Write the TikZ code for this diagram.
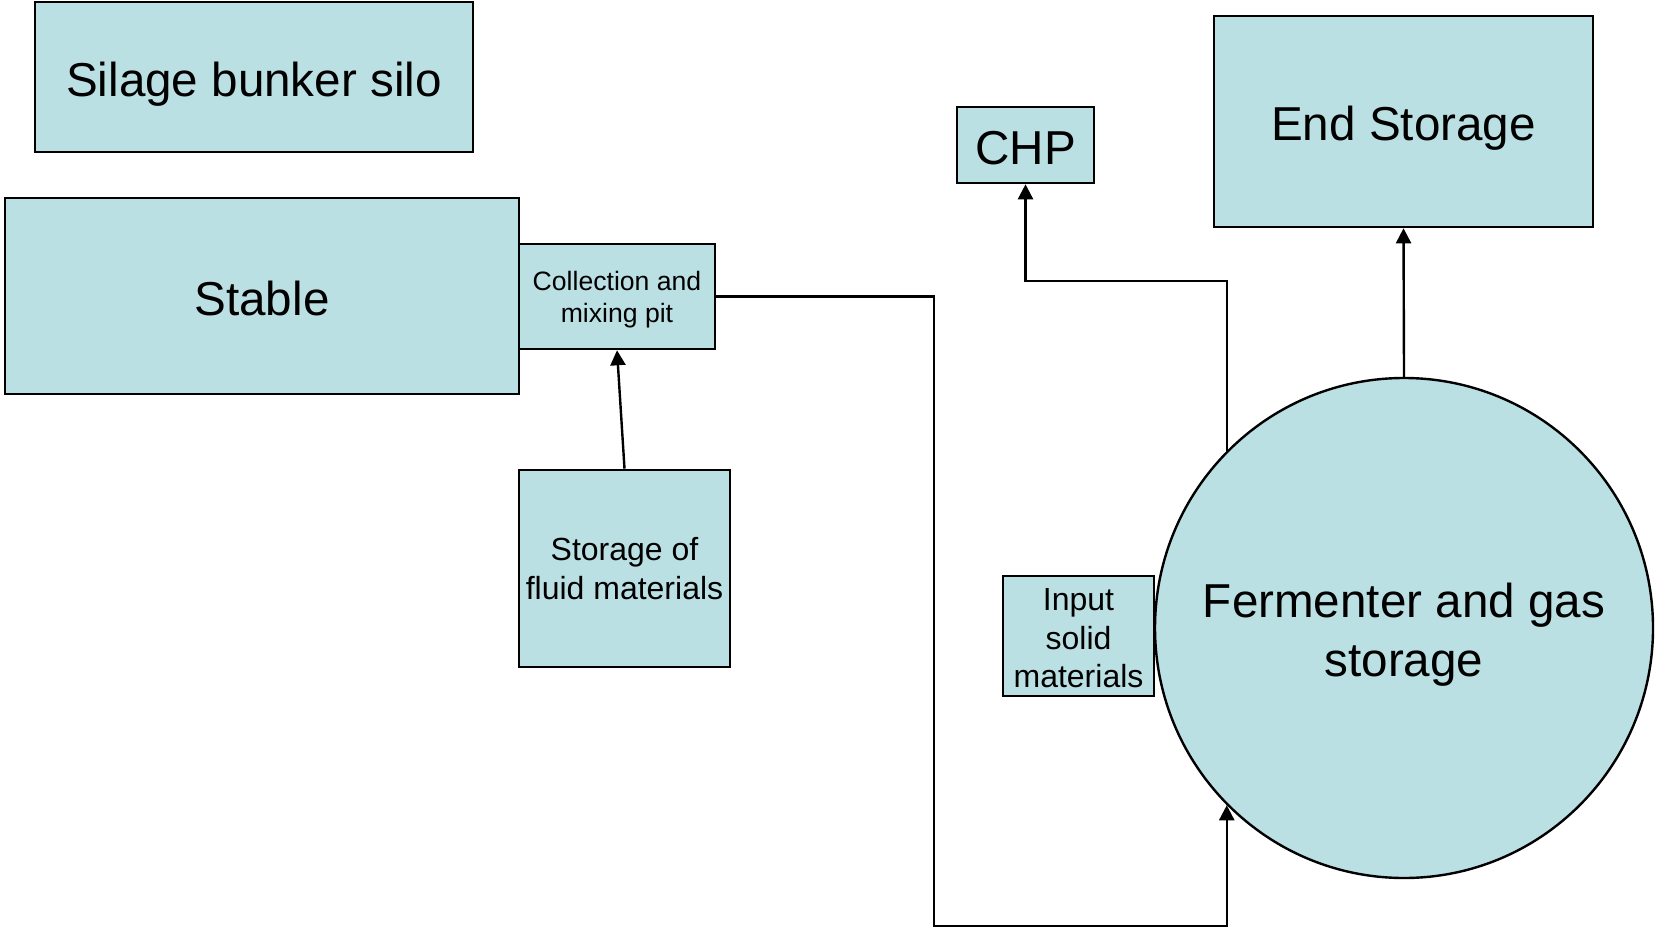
\documentclass[tikz,border=0pt]{standalone}
\usepackage{fontspec}
\setmainfont{Liberation Sans}
\usetikzlibrary{shapes.geometric,arrows.meta}
\definecolor{boxfill}{RGB}{187,224,227}
\begin{document}
\begin{tikzpicture}[x=0.5pt,y=-0.5pt,
  box/.style={draw=black,line width=1.3pt,fill=boxfill,rectangle,inner sep=0pt,align=center},
  big/.style={font=\fontsize{23.8}{29.5}\selectfont},
  oneline/.style={text height=24.5pt,text depth=5pt},
  mid/.style={font=\fontsize{16}{19.2}\selectfont},
  small/.style={font=\fontsize{13.3}{15.9}\selectfont},
  arr/.style={line width=1.2pt,-{Triangle[length=7.5pt,width=7.5pt]}}]
\useasboundingbox (0,0) rectangle (1657,930);
\node[box,big,oneline,minimum width=219pt,minimum height=75pt] (silo) at (254,77) {Silage bunker silo};
\node[box,big,oneline,minimum width=257pt,minimum height=98pt] (stable) at (262,296) {Stable};
\node[box,small,minimum width=98pt,minimum height=52.5pt] (coll) at (617,296.5) {\rule{0pt}{12.7pt}Collection and\\mixing pit};
\node[box,mid,minimum width=105.5pt,minimum height=98.5pt] (fluid) at (624.5,568.5) {Storage of\\fluid materials};
\node[box,big,oneline,minimum width=68.5pt,minimum height=38pt] (chp) at (1025.5,145) {CHP};
\node[box,big,oneline,minimum width=189.5pt,minimum height=105.5pt] (end) at (1403.5,121.5) {End Storage};
\node[box,mid,minimum width=75.5pt,minimum height=60pt] (input) at (1078.5,636) {\rule{0pt}{13.5pt}Input\\solid\\materials};
\node[ellipse,draw=black,line width=1.2pt,fill=boxfill,inner sep=0pt,minimum width=249pt,minimum height=250pt] (ferm) at (1404,628) {};
\node[big,align=center,inner sep=0pt] (fermtext) at ([yshift=-3.5pt]ferm.center) {Fermenter and gas\\storage};
\coordinate (b) at (934,926);
\coordinate (k) at (1227,281);
\draw[arr] (coll.east) -| (b) -| (ferm.-135);
\draw[arr] (ferm.135) -- (ferm.135 |- k) -| (chp.south);
\draw[arr] (ferm.north) -- (end.south);
\draw[arr] (fluid.north) -- (coll.south);
\end{tikzpicture}
\end{document}
